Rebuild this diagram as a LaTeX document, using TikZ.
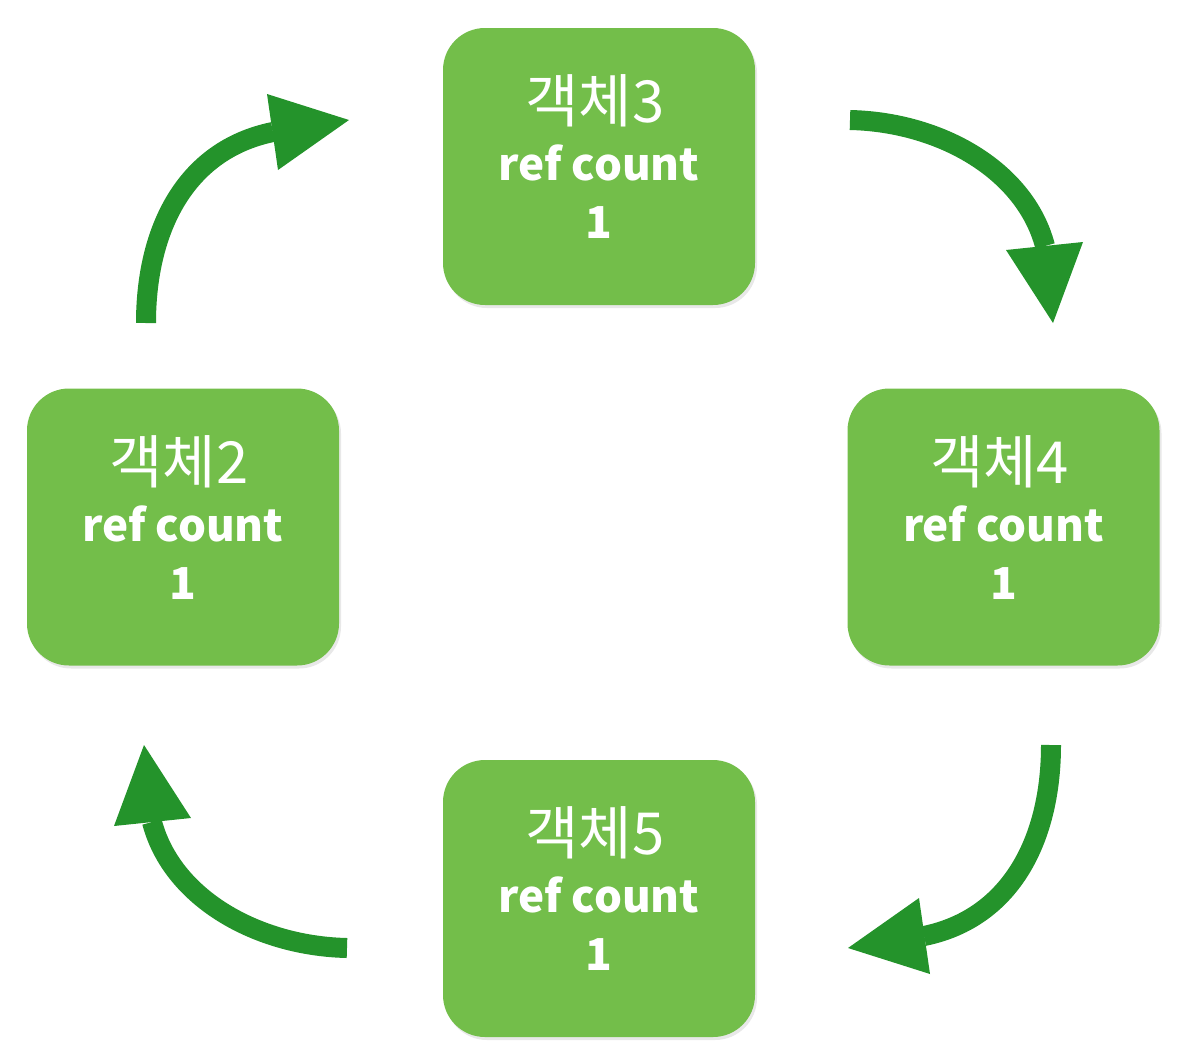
\documentclass[tikz,border=0pt]{standalone}
\usepackage{fontspec}
\setmainfont{Noto Sans CJK KR}
\usetikzlibrary{shadows,calc}
\definecolor{boxgreen}{RGB}{115,190,74}
\definecolor{arrowgreen}{RGB}{36,147,43}
\begin{document}
\begin{tikzpicture}[x=1pt,y=-1pt,
  obj/.style={fill=boxgreen, rounded corners=42pt, minimum width=312pt, minimum height=277pt, inner sep=0pt,
    drop shadow={opacity=0.18, shadow xshift=2pt, shadow yshift=-3pt}},
  ttl/.style={anchor=base, text=white, font=\fontsize{58}{64}\selectfont, inner sep=0pt},
  sub/.style={anchor=base, text=white, font=\fontsize{44}{52}\selectfont\bfseries, inner sep=0pt},
  shaft/.style={draw=arrowgreen, line width=20pt},
  head/.style={fill=arrowgreen}]
\useasboundingbox (0,0) rectangle (1188,1060);

% boxes
\node[obj] (o3) at (599,166.5) {};
\node[obj] (o2) at (183,527) {};
\node[obj] (o4) at (1003.5,527) {};
\node[obj] (o5) at (599,898.5) {};

\foreach \o/\n in {o3/3,o2/2,o4/4,o5/5}{
  \node[ttl] (\o a) at ($(\o.center)+(-4,-44)$) {객체\n};
  \node[sub] (\o b) at ($(\o.center)+(0,14)$) {ref count};
  \node[sub] (\o c) at ($(\o.center)+(0,72)$) {1};
}

% arrow 2 -> 3
\coordinate (a1s) at (146,323);
\coordinate (a1b) at (273,132);
\coordinate (a1p) at (267,94);
\coordinate (a1q) at (278,170);
\coordinate (a1t) at (349,120);
\draw[shaft] (a1s) .. controls (146,230) and (185,150) .. (a1b);
\fill[head] (a1p) -- (a1t) -- (a1q) -- cycle;

% arrow 3 -> 4
\coordinate (a2s) at (850,120);
\coordinate (a2b) at (1045,246);
\coordinate (a2p) at (1006,250);
\coordinate (a2q) at (1083,242);
\coordinate (a2t) at (1053,323);
\draw[shaft] (a2s) .. controls (940,122) and (1025,170) .. (a2b);
\fill[head] (a2p) -- (a2t) -- (a2q) -- cycle;

% arrow 4 -> 5
\coordinate (a3s) at (1051,745);
\coordinate (a3b) at (924,936);
\coordinate (a3p) at (930,974);
\coordinate (a3q) at (919,898);
\coordinate (a3t) at (848,948);
\draw[shaft] (a3s) .. controls (1051,838) and (1012,918) .. (a3b);
\fill[head] (a3p) -- (a3t) -- (a3q) -- cycle;

% arrow 5 -> 2
\coordinate (a4s) at (347,948);
\coordinate (a4b) at (152,822);
\coordinate (a4p) at (191,818);
\coordinate (a4q) at (114,826);
\coordinate (a4t) at (144,745);
\draw[shaft] (a4s) .. controls (257,946) and (172,898) .. (a4b);
\fill[head] (a4p) -- (a4t) -- (a4q) -- cycle;
\end{tikzpicture}
\end{document}
